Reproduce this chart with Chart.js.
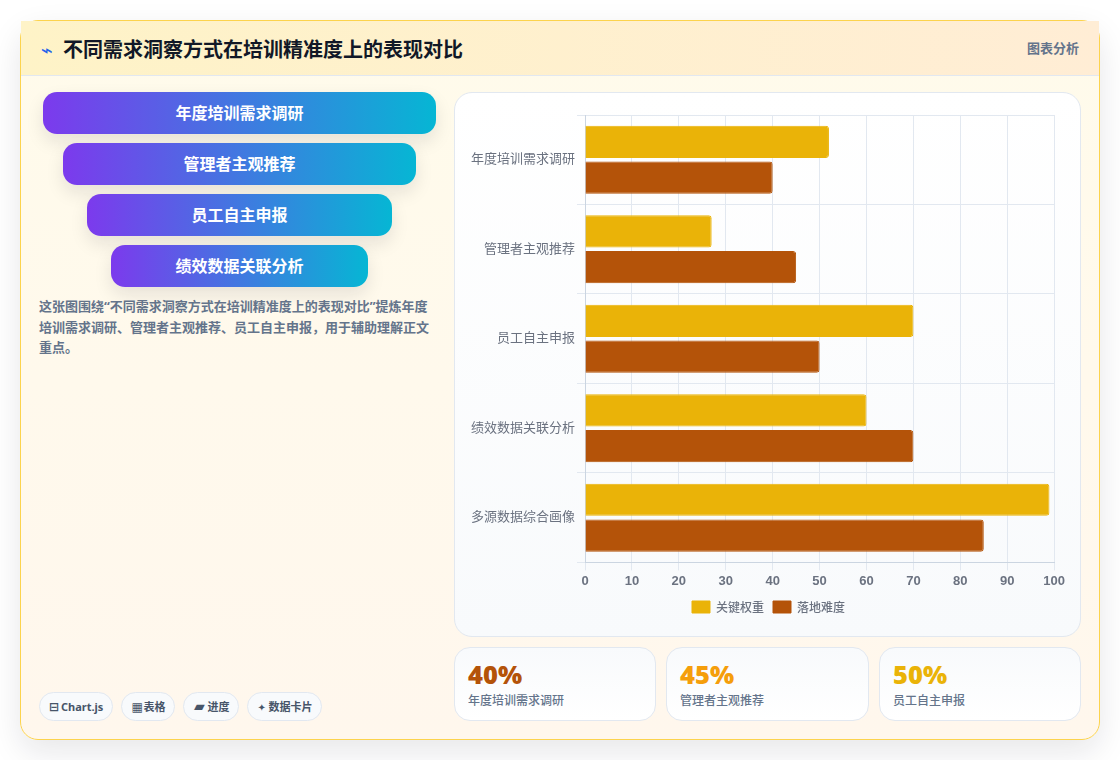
<!DOCTYPE html>
<html lang="zh-CN">
<head>
<meta charset="utf-8">
<title>不同需求洞察方式在培训精准度上的表现对比</title>
<script src="https://cdn.jsdelivr.net/npm/chart.js@4"></script>
<style>
  * { box-sizing: border-box; margin: 0; padding: 0; }
  html, body { width: 1120px; height: 760px; background: #fff; overflow: hidden;
    font-family: "Noto Sans", "Noto Sans CJK SC", sans-serif; }
  .card { position: absolute; left: 20px; top: 20px; width: 1080px; height: 720px;
    border: 1px solid #fcd34d; border-radius: 18px;
    background: linear-gradient(180deg, #fffbeb, #fff7ed);
    box-shadow: 0 12px 32px rgba(15, 23, 42, .10); }
  .head { position: absolute; left: 0; top: 0; width: 1078px; height: 55px;
    background: linear-gradient(90deg, #fef3c7, #ffedd5);
    border-bottom: 1px solid #e2e8f0; }
  .title { position: absolute; left: 20px; top: 15px; font-size: 20px; line-height: 28px;
    font-weight: 700; color: #111827; white-space: nowrap; }
  .title i { font-style: normal; font-family: "DejaVu Sans", sans-serif; font-weight: 400;
    color: #2563eb; font-size: 20px; line-height: 20px; display: inline-block; width: 22px; }
  .tag { position: absolute; right: 20px; top: 18px; font-size: 13px; line-height: 18px;
    font-weight: 700; color: #64748b; }
  .step { position: absolute; height: 42px; border-radius: 14px; color: #fff;
    background: linear-gradient(90deg, #7c3aed, #06b6d4);
    box-shadow: 0 8px 18px rgba(15, 23, 42, .10);
    font-size: 16px; font-weight: 700; line-height: 42px; text-align: center; }
  .note { position: absolute; left: 18px; top: 275px; width: 396px; font-size: 13px;
    line-height: 20.5px; font-weight: 700; color: #64748b; }
  .chips { position: absolute; left: 18px; top: 671px; display: flex; gap: 8px; }
  .chip { height: 29px; padding: 0 9px; border: 1px solid #e2e8f0; border-radius: 15px;
    background: #f8fafc; font-size: 11px; line-height: 27px; font-weight: 700; color: #475569;
    white-space: nowrap; }
  .chip i { font-style: normal; font-family: "DejaVu Sans", sans-serif; display: inline-block;
    text-align: center; margin-right: 3px; font-size: 12px; line-height: 12px; width: 9px; }
  .chip:nth-child(3) i { width: 12px; font-size: 14px; margin-right: 2px; }
  .chip:nth-child(4) i { width: 6px; font-size: 10px; margin-right: 5px; }
  .panel { position: absolute; left: 433px; top: 71px; width: 627px; height: 545px;
    border: 1px solid #e2e8f0; border-radius: 18px;
    background: linear-gradient(180deg, #fff, #f8fafc); }
  .chart-box { position: absolute; left: 14px; top: 10px; width: 599px; height: 529px; }
  .stat { position: absolute; top: 626px; height: 74px; border: 1px solid #e2e8f0;
    border-radius: 16px; background: linear-gradient(180deg, #f8fafc, #fff); }
  .stat b { position: absolute; left: 13px; top: 10px; font-size: 25.5px; line-height: 32px;
    font-weight: 900; }
  .stat span { position: absolute; left: 13px; top: 44px; font-size: 12px; line-height: 18px;
    color: #64748b; font-weight: 500; }
</style>
</head>
<body>
<div class="card">
  <div class="head">
    <div class="title"><i id="icon"></i><span id="title"></span></div>
    <div class="tag" id="tag"></div>
  </div>
  <div id="steps"></div>
  <div class="note" id="note"></div>
  <div class="chips" id="chips"></div>
  <div class="panel"><div class="chart-box"><canvas id="bars"></canvas></div></div>
  <div id="stats"></div>
</div>
<script>
// Copy shown around the chart
const titleText = "不同需求洞察方式在培训精准度上的表现对比";
const tagText = "图表分析";
const noteText = "这张图围绕“不同需求洞察方式在培训精准度上的表现对比”提炼年度培训需求调研、管理者主观推荐、员工自主申报，用于辅助理解正文重点。";
const stepLabels = ["年度培训需求调研", "管理者主观推荐", "员工自主申报", "绩效数据关联分析"];
const chipIcons = ["⊟", "▦", "▰", "✦"];
const chipLabels = ["Chart.js", "表格", "进度", "数据卡片"];

// Bar chart data
const categories = ["年度培训需求调研", "管理者主观推荐", "员工自主申报", "绩效数据关联分析", "多源数据综合画像"];
const seriesNames = ["关键权重", "落地难度"];
const keyWeight = [52, 27, 70, 60, 99];
const difficulty = [40, 45, 50, 70, 85];

// Summary cards
const statValues = ["40%", "45%", "50%"];
const statLabels = ["年度培训需求调研", "管理者主观推荐", "员工自主申报"];
const statColors = ["#b45309", "#f59e0b", "#eab308"];

document.getElementById("icon").textContent = "⌁";
document.getElementById("title").textContent = titleText;
document.getElementById("tag").textContent = tagText;
document.getElementById("note").textContent = noteText;

// Funnel-like stack of rounded pills, each narrower than the one above
const stepBoxes = [[22, 393], [42, 353], [66, 305], [90, 257]];
document.getElementById("steps").innerHTML = stepLabels.map((t, i) =>
  `<div class="step" style="left:${stepBoxes[i][0]}px;width:${stepBoxes[i][1]}px;top:${71 + i * 51}px">${t}</div>`).join("");

document.getElementById("chips").innerHTML = chipLabels.map((t, i) =>
  `<div class="chip"><i>${chipIcons[i]}</i>${t}</div>`).join("");

const statBoxes = [[433, 202], [645, 203], [858, 202]];
document.getElementById("stats").innerHTML = statValues.map((v, i) =>
  `<div class="stat" style="left:${statBoxes[i][0]}px;width:${statBoxes[i][1]}px"><b style="color:${statColors[i]}">${v}</b><span>${statLabels[i]}</span></div>`).join("");

const axisFont = '"Liberation Sans", "Noto Sans CJK SC", sans-serif';
const cjkFont = '"Noto Sans CJK SC", sans-serif';
new Chart(document.getElementById("bars"), {
  type: "bar",
  data: {
    labels: categories,
    datasets: [
      { label: seriesNames[0], data: keyWeight, backgroundColor: "#eab308", borderColor: "#eab308" },
      { label: seriesNames[1], data: difficulty, backgroundColor: "#b45309", borderColor: "#b45309" }
    ]
  },
  options: {
    indexAxis: "y",
    responsive: true,
    maintainAspectRatio: false,
    animation: false,
    layout: { padding: { left: 0, right: 0, top: 12, bottom: 9 } },
    datasets: { bar: { borderRadius: 3, borderWidth: 1, categoryPercentage: 0.8, barPercentage: 0.9 } },
    scales: {
      x: {
        min: 0, max: 100,
        border: { color: "#cbd5e1" },
        ticks: { stepSize: 10, color: "#6b7280", font: { family: axisFont, size: 13, weight: "bold" } },
        grid: { color: "#e2e8f0" }
      },
      y: {
        border: { color: "#cbd5e1" },
        ticks: { padding: 2, color: "#6b7280", font: { family: axisFont, size: 13 } },
        grid: { color: "#e2e8f0" }
      }
    },
    plugins: {
      legend: {
        position: "bottom",
        labels: { color: "#6b7280", boxWidth: 18, boxHeight: 12, padding: 9,
          font: { family: cjkFont, size: 12, weight: "500" } }
      },
      tooltip: { enabled: false }
    }
  }
});
</script>
</body>
</html>
